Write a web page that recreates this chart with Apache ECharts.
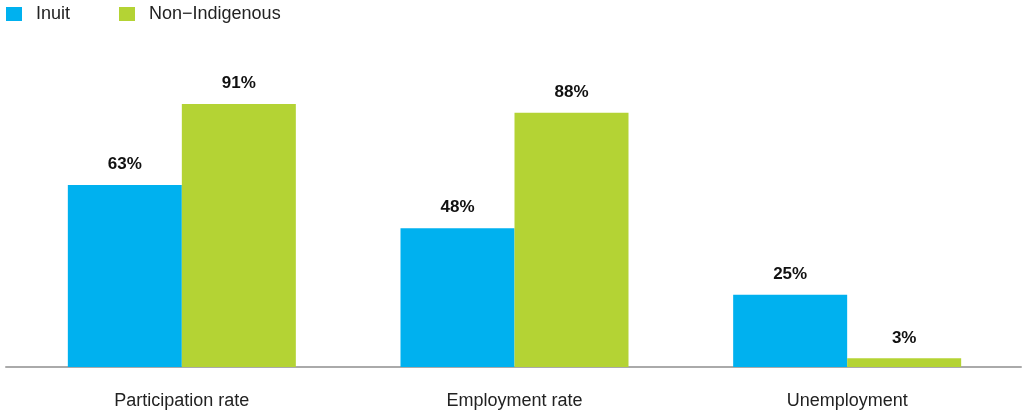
<!DOCTYPE html>
<html><head><meta charset="utf-8">
<script src="https://cdn.jsdelivr.net/npm/echarts@6/dist/echarts.min.js"></script>
<style>html,body{margin:0;padding:0;background:#fff}#c{width:1024px;height:413px}</style>
</head><body><div id="c"></div>
<script>
const categories = ['Participation rate', 'Employment rate', 'Unemployment'];
const seriesNames = ['Inuit', 'Non\u2212Indigenous'];
const inuit = [63, 48, 25];
const nonIndigenous = [91, 88, 3];

const chart = echarts.init(document.getElementById('c'), null, {renderer: 'canvas'});
const font = '"Liberation Sans", Arial, Helvetica, sans-serif';
const labelCfg = {show: true, position: 'top', distance: 12, formatter: '{c}%', color: '#111', fontWeight: 'bold', fontSize: 17, fontFamily: font};
chart.setOption({
  animation: false,
  legend: {
    left: 1, top: 0, itemWidth: 16, itemHeight: 14, itemGap: 49, icon: 'rect',
    textStyle: {fontSize: 18, color: '#222', fontFamily: font, padding: [0, 0, 0, 9]},
    data: seriesNames
  },
  grid: [
    {left: 15.5, right: 10.5, top: 78, bottom: 46, containLabel: false},
    {left: 6, right: 3, top: 78, bottom: 46, containLabel: false}
  ],
  xAxis: [
    {type: 'category', gridIndex: 0, data: categories, axisLine: {show: false}, axisTick: {show: false},
     axisLabel: {fontSize: 18, color: '#222', margin: 25, fontFamily: font}},
    {type: 'category', gridIndex: 1, data: categories, axisLine: {show: true, lineStyle: {color: '#aaa', width: 2}},
     axisTick: {show: false}, axisLabel: {show: false}}
  ],
  yAxis: [
    {type: 'value', gridIndex: 0, min: 0, max: 100, show: false},
    {type: 'value', gridIndex: 1, min: 0, max: 100, show: false}
  ],
  series: [
    {name: seriesNames[0], type: 'bar', data: inuit, barWidth: 114, barGap: '0%', itemStyle: {color: '#00b1ef'}, label: labelCfg, z: 3},
    {name: seriesNames[1], type: 'bar', data: nonIndigenous, barWidth: 114, barGap: '0%', itemStyle: {color: '#b4d334'}, label: labelCfg, z: 3}
  ]
});
</script></body></html>
